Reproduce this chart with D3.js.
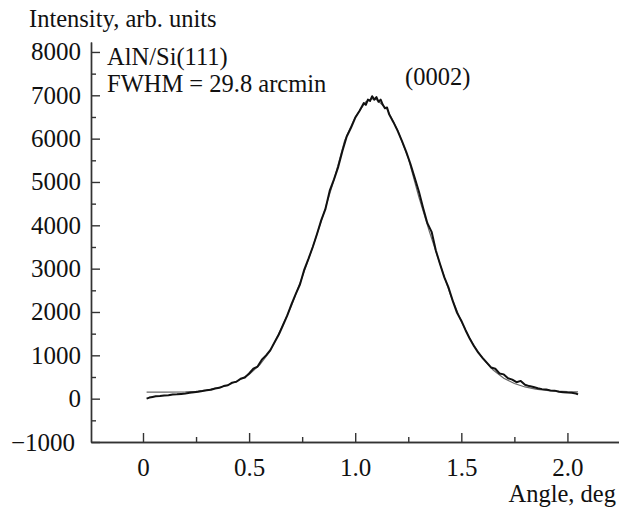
<!DOCTYPE html>
<html>
<head>
<meta charset="utf-8">
<script src="https://cdn.jsdelivr.net/npm/d3@7"></script>
<style>
  body { margin: 0; background: #fff; }
  svg text { font-family: "Liberation Serif", "Times New Roman", Tinos, serif; fill: #111; }
</style>
</head>
<body>
<div id="chart"></div>
<script>
// measured rocking curve (angle in deg, intensity)
var measAngle = [0.017, 0.03, 0.045, 0.06, 0.08, 0.10, 0.12, 0.14, 0.16, 0.18,
  0.20, 0.22, 0.24, 0.26, 0.28, 0.30, 0.32, 0.34, 0.36, 0.38,
  0.40, 0.42, 0.44, 0.46, 0.48, 0.50, 0.52, 0.54, 0.56, 0.58,
  0.60, 0.62, 0.64, 0.66, 0.68, 0.70, 0.72, 0.74, 0.76, 0.78,
  0.80, 0.82, 0.84, 0.86, 0.88, 0.90, 0.92, 0.94, 0.96, 0.98,
  1.00, 1.02, 1.04, 1.05, 1.06, 1.07, 1.08, 1.09, 1.10, 1.11,
  1.12, 1.13, 1.14, 1.15, 1.16, 1.18, 1.20, 1.22, 1.24, 1.26,
  1.28, 1.30, 1.32, 1.34, 1.36, 1.38, 1.40, 1.42, 1.44, 1.46,
  1.48, 1.50, 1.52, 1.54, 1.56, 1.58, 1.60, 1.62, 1.64, 1.66,
  1.68, 1.70, 1.72, 1.74, 1.76, 1.78, 1.80, 1.82, 1.84, 1.86,
  1.88, 1.90, 1.92, 1.94, 1.96, 1.98, 2.00, 2.02, 2.04, 2.05];
var measIntensity = [0, 25, 40, 55, 60, 75, 80, 95, 100, 110,
  120, 135, 150, 160, 175, 195, 205, 235, 250, 290,
  310, 370, 390, 460, 490, 580, 690, 740, 900, 1000,
  1120, 1300, 1480, 1700, 1920, 2180, 2420, 2640, 2980, 3230,
  3500, 3800, 4120, 4380, 4800, 5060, 5350, 5720, 6050, 6250,
  6480, 6640, 6820, 6780, 6900, 6870, 6980, 6900, 6960, 6850,
  6900, 6780, 6700, 6720, 6560, 6380, 6180, 5950, 5700, 5420,
  5100, 4780, 4400, 4050, 3850, 3420, 3100, 2800, 2560, 2250,
  1980, 1800, 1580, 1380, 1210, 1060, 940, 830, 720, 690,
  580, 560, 470, 440, 380, 410, 320, 290, 270, 240,
  220, 210, 190, 185, 160, 150, 140, 135, 120, 100];

// fitted curve
var fitAngle = [0.017, 0.10, 0.20, 0.25, 0.30, 0.35, 0.40, 0.45, 0.50, 0.55,
  0.60, 0.65, 0.70, 0.75, 0.80, 0.85, 0.90, 0.95, 1.00, 1.05,
  1.08, 1.10, 1.15, 1.20, 1.25, 1.30, 1.35, 1.40, 1.45, 1.50,
  1.55, 1.60, 1.65, 1.70, 1.75, 1.80, 1.85, 1.90, 1.95, 2.00, 2.05];
var fitIntensity = [152, 153, 158, 170, 200, 250, 310, 420, 560, 780,
  1100, 1600, 2150, 2800, 3500, 4250, 5050, 5950, 6500, 6850,
  6920, 6900, 6680, 6200, 5550, 4650, 3850, 3100, 2380, 1780,
  1300, 930, 660, 470, 350, 270, 220, 190, 172, 162, 158];

var xTicks = [0, 0.5, 1.0, 1.5, 2.0];
var xTickLabels = ["0", "0.5", "1.0", "1.5", "2.0"];
var yTicks = [-1000, 0, 1000, 2000, 3000, 4000, 5000, 6000, 7000, 8000];

(function() {
  var margin = { top: 42, left: 91, right: 0, bottom: 68 },
    height = 510 - margin.top - margin.bottom,
    width = 619 - margin.left - margin.right;

  var serif = "'Liberation Serif', 'Times New Roman', Tinos, serif";

  var svg = d3.select("#chart")
    .append("svg")
    .attr("height", height + margin.top + margin.bottom)
    .attr("width", width + margin.left + margin.right)
    .append("g")
    .attr("transform", "translate(" + margin.left + "," + margin.top + ")");

  var x = d3.scaleLinear().domain([-0.245, 2.243]).range([0, width]);
  var y = d3.scaleLinear().domain([-1000, 8230]).range([height, 0]);

  // minor ticks first
  svg.append("g")
    .attr("class", "axis")
    .attr("transform", "translate(0," + height + ")")
    .call(d3.axisBottom(x).tickValues([0.25, 0.75, 1.25, 1.75]).tickSizeInner(-5).tickSizeOuter(0).tickFormat(""));
  svg.append("g")
    .attr("class", "axis")
    .call(d3.axisLeft(y).tickValues(d3.range(-500, 8001, 1000)).tickSizeInner(-5).tickSizeOuter(0).tickFormat(""));

  var xAxis = svg.append("g")
    .attr("class", "axis")
    .attr("transform", "translate(0," + height + ")")
    .call(d3.axisBottom(x).tickValues(xTicks).tickSizeInner(-9).tickSizeOuter(0).tickPadding(16)
      .tickFormat(function(d, i) { return xTickLabels[i]; }));

  var yAxis = svg.append("g")
    .attr("class", "axis")
    .call(d3.axisLeft(y).tickValues(yTicks).tickSizeInner(-9).tickSizeOuter(0).tickPadding(10)
      .tickFormat(function(d) { return d < 0 ? "\u22121000" : d; }));

  svg.selectAll(".axis").attr("font-family", serif);

  svg.selectAll(".axis path, .axis line")
    .attr("stroke", "#333")
    .attr("stroke-width", 1.4);
  svg.selectAll(".axis text")
    .style("font-family", serif)
    .style("font-size", "25px")
    .attr("fill", "#111");

  // bottom label sits a little left
  yAxis.selectAll(".tick text")
    .filter(function(d) { return d < 0; })
    .attr("x", -16);

  var line = d3.line()
    .x(function(d) { return x(d[0]); })
    .y(function(d) { return y(d[1]); });

  var fit = fitAngle.map(function(a, i) { return [a, fitIntensity[i]]; });
  var meas = measAngle.map(function(a, i) { return [a, measIntensity[i]]; });

  svg.append("path")
    .datum(fit)
    .attr("d", line)
    .attr("fill", "none")
    .attr("stroke", "#666")
    .attr("stroke-width", 1.2);

  svg.append("path")
    .datum(meas)
    .attr("d", line)
    .attr("fill", "none")
    .attr("stroke", "#111")
    .attr("stroke-width", 2)
    .attr("stroke-linejoin", "round");

  var root = d3.select("#chart svg");

  function label(tx, ty, str, anchor) {
    root.append("text")
      .attr("x", tx)
      .attr("y", ty)
      .attr("text-anchor", anchor || "start")
      .style("font-family", serif)
      .style("font-size", "24.5px")
      .text(str);
  }

  label(29, 27, "Intensity, arb. units");
  label(107, 65, "AlN/Si(111)");
  label(107, 92, "FWHM = 29.8 arcmin");
  label(405, 85, "(0002)");
  label(616, 502, "Angle, deg", "end");
})();
</script>
</body>
</html>
